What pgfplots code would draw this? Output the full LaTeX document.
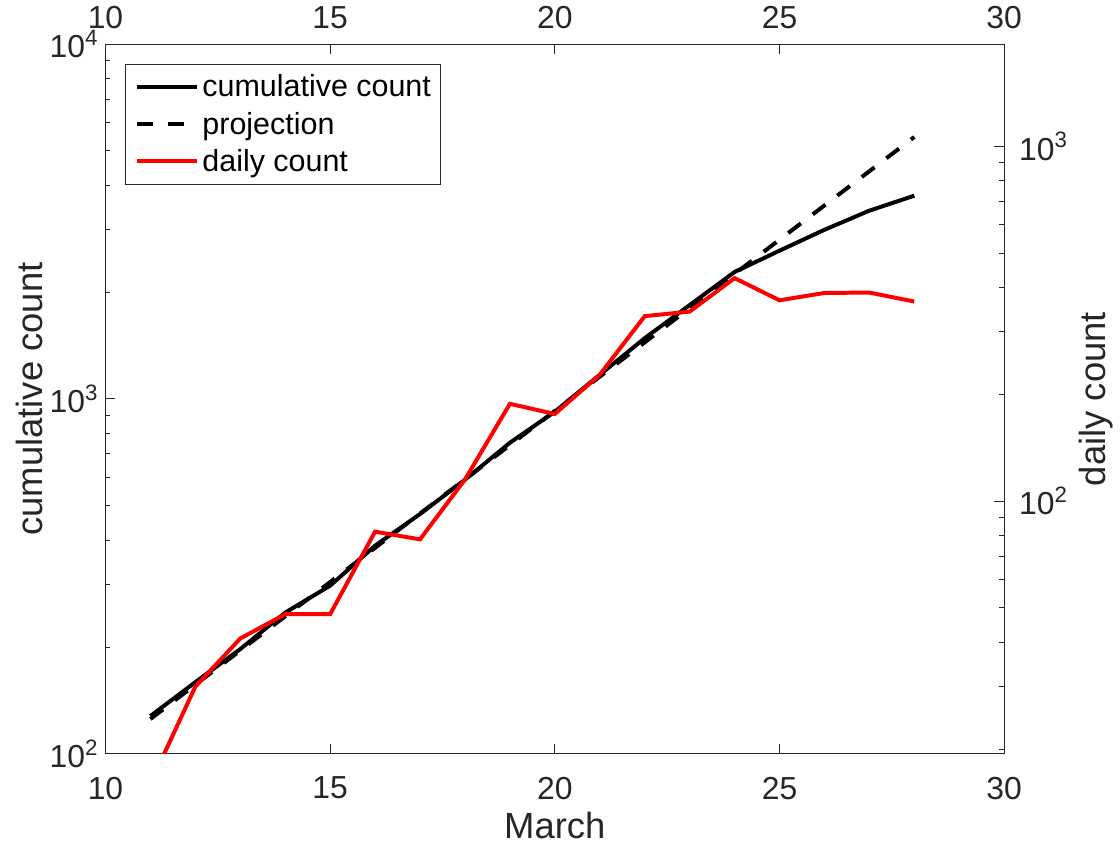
\documentclass[border=0pt]{standalone}
\usepackage{fontspec}
\setmainfont{Liberation Sans}
\usepackage{pgfplots}
\pgfplotsset{compat=1.18}
\definecolor{axgray}{rgb}{0.15,0.15,0.15}
\begin{document}
\begin{tikzpicture}
\pgfplotsset{
  every axis/.append style={
    width=451.65pt, height=356.65pt, scale only axis,
    xmin=10, xmax=30, xtick={10,15,20,25,30},
    ymode=log,
    tick align=inside,
    major tick length=5pt, minor tick length=2.5pt,
    axis line style={axgray, line width=0.5pt},
    every tick/.append style={axgray, line width=0.5pt},
    every minor tick/.append style={axgray, line width=0.5pt},
    tick label style={font=\fontsize{16}{19}\selectfont, text=axgray},
    label style={font=\fontsize{18.3}{21}\selectfont, text=axgray},
    /pgf/number format/assume math mode=true,
  }
}
\begin{axis}[name=ax,
  ymin=100, ymax=10000,
  ytick={100,1000,10000},
  yticklabels={10\textsuperscript{2},10\textsuperscript{3},10\textsuperscript{4}},
  minor ytick={200,300,400,500,600,700,800,900,2000,3000,4000,5000,6000,7000,8000,9000},
  xtick pos=both, xticklabel pos=lower, ytick pos=left, yticklabel pos=left,
  xticklabel style={yshift=-8pt},
  xlabel={March}, ylabel={cumulative count},
  xlabel style={at={(axis description cs:0.5,-0.101)}, anchor=center},
  ylabel style={at={(axis description cs:-0.0841,0.5)}, anchor=center},
]
\addplot[black, line width=2pt] coordinates {
(11,127.8)(12,159.2)(13,197.4)(14,250)(15,297.8)(16,386)(17,474)(18,592)(19,753)(20,921)
(21,1170)(22,1484)(23,1839)(24,2280)(25,2618)(26,2998)(27,3395)(28,3741)};
\addplot[black, line width=2pt, dash pattern=on 8pt off 7.5pt] coordinates {
(11,125.3)(12,156.6)(13,195.5)(14,244.1)(15,304.9)(16,380.7)(17,475.5)(18,593.7)(19,741.3)(20,925.7)
(21,1156)(22,1444)(23,1803)(24,2251)(25,2812)(26,3511)(27,4385)(28,5475)};
\end{axis}
\begin{axis}[
  ymin=19.4, ymax=1940,
  ytick={100,1000},
  yticklabels={10\textsuperscript{2},10\textsuperscript{3}},
  minor ytick={20,30,40,50,60,70,80,90,200,300,400,500,600,700,800,900},
  xtick pos=upper, xticklabel pos=upper, ytick pos=right, yticklabel pos=right,
  xticklabel style={yshift=4pt},
  yticklabel style={xshift=4pt},
  ylabel={daily count},
  ylabel style={at={(axis description cs:1.1026,0.5)}, anchor=center},
  legend cell align=left,
  legend image code/.code={\draw[#1] (0pt,0pt) -- (30.3pt,0pt);},
  legend style={at={(axis description cs:0.0218,0.9725)}, anchor=north west,
    draw=axgray, line width=0.5pt, fill=white,
    inner xsep=4.65pt, inner ysep=4.4pt, row sep=4.75pt, column sep=1.7pt,
    font=\fontsize{15.3}{18}\selectfont,
    nodes={inner sep=0pt, text height=12pt, text depth=2pt, text=black}},
]
\addlegendimage{black, line width=2pt}
\addlegendentry{cumulative count}
\addlegendimage{black, line width=2pt, dash pattern=on 8pt off 7.5pt}
\addlegendentry{projection}
\addplot[red, line width=2pt] coordinates {
(11,16)(12,30)(13,41)(14,48)(15,48)(16,82)(17,78)(18,115)(19,188)(20,176)
(21,227)(22,332)(23,342)(24,425)(25,368)(26,386)(27,387)(28,365)};
\addlegendentry{daily count}
\end{axis}
\path ([xshift=-53pt,yshift=-44.5pt]ax.south west) rectangle ([xshift=55.35pt,yshift=21.35pt]ax.north east);
\end{tikzpicture}
\end{document}
